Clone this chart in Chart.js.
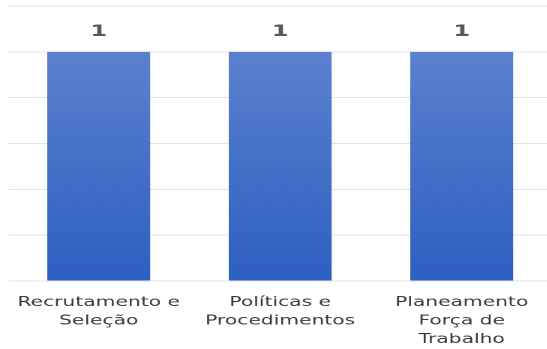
<!DOCTYPE html>
<html>
<head>
<meta charset="utf-8">
<script src="https://cdn.jsdelivr.net/npm/chart.js@4/dist/chart.umd.min.js"></script>
<style>
  html, body { margin: 0; padding: 0; background: #fff; overflow: hidden; }
  /* chart is laid out narrow, then stretched sideways */
  #wrap { position: absolute; left: 0; top: 0; width: 370px; height: 349px; transform: scaleX(1.5); transform-origin: 0 0; }
</style>
</head>
<body>
<div id="wrap"><canvas id="areas"></canvas></div>
<script>
const categories = [
    ['Recrutamento e', 'Seleção'],
    ['Políticas e', 'Procedimentos'],
    ['Planeamento', 'Força de', 'Trabalho']
];
const counts = [1, 1, 1];
const yMax = 1.2;
const yStep = 0.2;

// vertical blue fade, lighter at the top of the bars
function barFill(context) {
    const chart = context.chart;
    if (!chart.chartArea) return '#4472c4';
    const y = chart.scales.y;
    const g = chart.ctx.createLinearGradient(0, y.getPixelForValue(Math.max(...counts)), 0, y.getPixelForValue(0));
    g.addColorStop(0, '#5b81cf');
    g.addColorStop(1, '#2e5fc1');
    return g;
}

// count printed above each bar
const valueLabels = {
    id: 'valueLabels',
    afterDatasetsDraw(chart) {
        const ctx = chart.ctx;
        const meta = chart.getDatasetMeta(0);
        ctx.save();
        ctx.font = 'bold 16px "DejaVu Sans"';
        ctx.fillStyle = '#595959';
        ctx.textAlign = 'center';
        ctx.textBaseline = 'middle';
        meta.data.forEach((bar, i) => {
            ctx.fillText(String(counts[i]), bar.x, bar.y - 20);
        });
        ctx.restore();
    }
};

new Chart(document.getElementById('areas'), {
    type: 'bar',
    data: {
        labels: categories,
        datasets: [{
            data: counts,
            backgroundColor: barFill,
            borderWidth: 0,
            barPercentage: 0.567,
            categoryPercentage: 1
        }]
    },
    options: {
        responsive: true,
        maintainAspectRatio: false,
        devicePixelRatio: 2,
        animation: false,
        layout: { padding: { left: 5.3, right: 1.7, top: 6, bottom: 0 } },
        plugins: { legend: { display: false }, tooltip: { enabled: false } },
        scales: {
            x: {
                grid: { display: false, drawTicks: false },
                border: { display: false },
                ticks: {
                    color: '#3a3a3a',
                    font: { family: 'DejaVu Sans', size: 13.5, lineHeight: 1.38 },
                    padding: 12,
                    maxRotation: 0,
                    autoSkip: false
                },
                afterFit(scale) {
                    scale.height = 68;
                    // labels may overhang the edges, keep the plot width fixed
                    scale.paddingLeft = 0;
                    scale.paddingRight = 0;
                }
            },
            y: {
                min: 0,
                max: yMax,
                ticks: { display: false, stepSize: yStep },
                grid: { color: '#dfe2e7', lineWidth: 1, drawTicks: false },
                border: { display: false },
                afterFit(scale) { scale.width = 0; }
            }
        }
    },
    plugins: [valueLabels]
});
</script>
</body>
</html>
